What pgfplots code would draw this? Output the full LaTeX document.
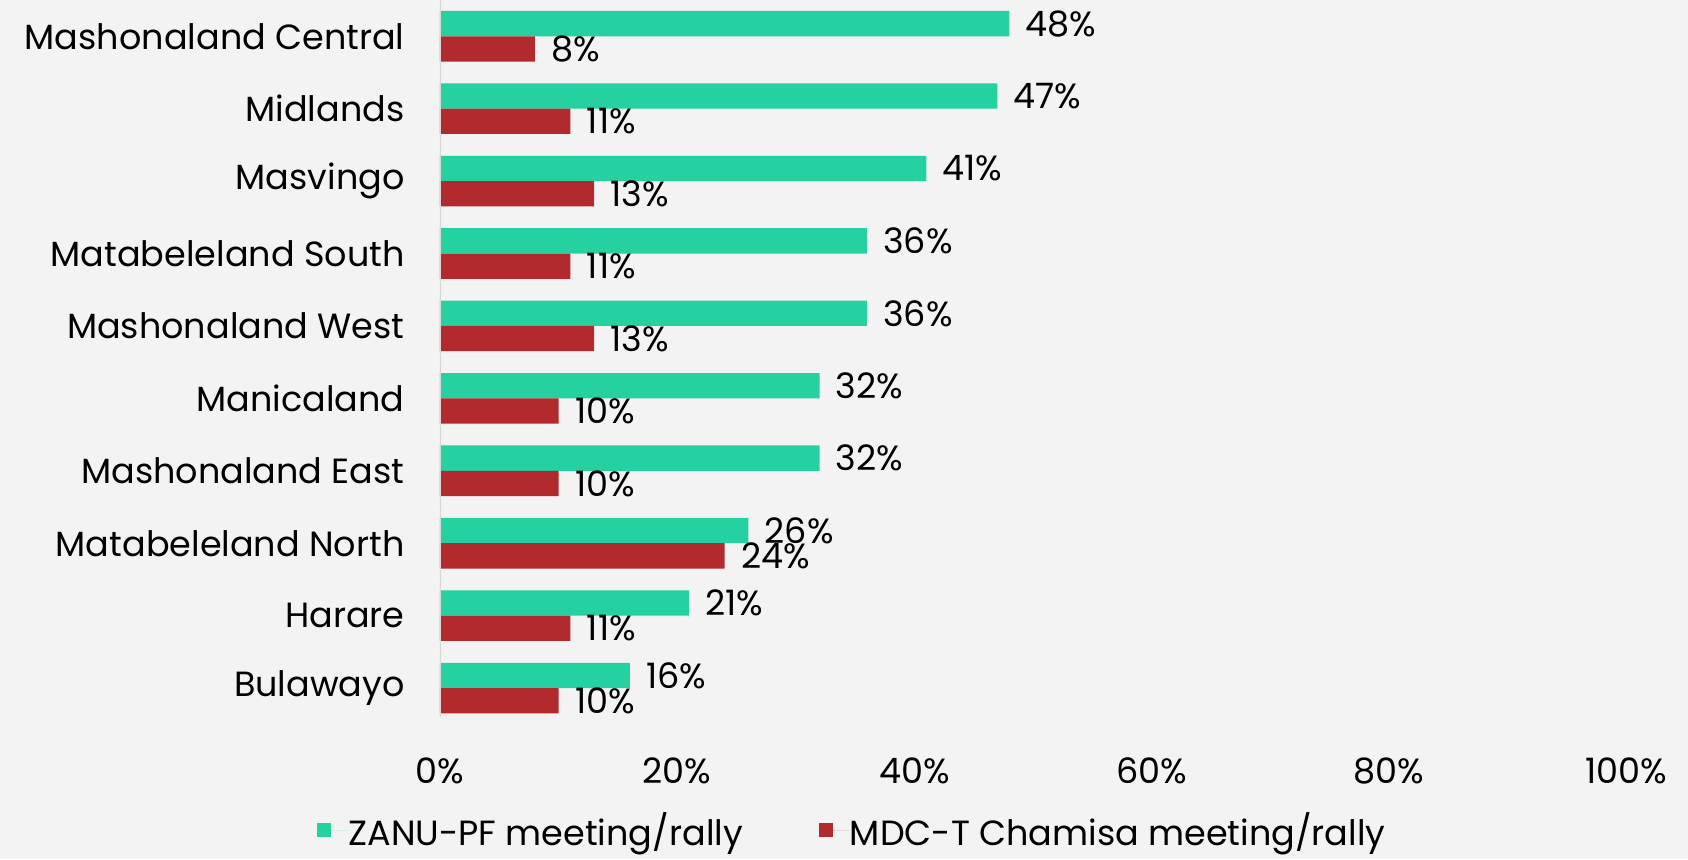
\documentclass[border=0pt]{standalone}
\usepackage{pgfplots}
\pgfplotsset{compat=1.18}
\usepackage{fontspec}
\setmainfont{Poppins}
\definecolor{zgreen}{RGB}{37,209,160}
\definecolor{mred}{RGB}{178,41,46}
\definecolor{bg}{RGB}{243,243,243}
\definecolor{axgray}{RGB}{215,215,215}
\begin{document}
\begin{tikzpicture}[font=\fontsize{17.5}{21}\selectfont]
\fill[bg] (0,0) rectangle (844pt,-429.5pt);
\path[use as bounding box] (0,0) rectangle (844pt,-429.5pt);
\begin{axis}[
  at={(220pt,-358.5pt)}, anchor=south west,
  scale only axis, width=593pt, height=358.5pt,
  xbar=0pt, bar width=12.65pt,
  y dir=reverse,
  xmin=0, xmax=100, ymin=-0.5, ymax=9.4,
  enlargelimits=false,
  axis line style={draw=none},
  major tick length=0pt,
  xtick={0,20,40,60,80,100},
  xticklabel={\pgfmathprintnumber{\tick}\%},
  xticklabel style={anchor=center, inner sep=0pt, yshift=-27pt},
  ytick={0,...,9},
  yticklabels={Mashonaland Central,Midlands,Masvingo,Matabeleland South,Mashonaland West,Manicaland,Mashonaland East,Matabeleland North,Harare,Bulawayo},
  yticklabel style={anchor=east, inner sep=0pt, xshift=-17.5pt},
  /pgf/number format/assume math mode=true,
  point meta=x,
  nodes near coords={\pgfmathprintnumber{\pgfplotspointmeta}\%},
  nodes near coords style={anchor=west, inner sep=0pt, xshift=8pt, text=black},
  legend columns=2,
  legend style={at={(0.347,-0.158)}, anchor=center, draw=none, fill=none,
    /tikz/every even column/.append style={column sep=38pt},
    nodes={inner sep=0pt}},
  legend image code/.code={\fill[#1] (0pt,-3.5pt) rectangle (7pt,3.5pt); \path (0pt,0pt) -- (15.5pt,0pt);},
]
\addplot[fill=zgreen, draw=none, bar shift=6.325pt] coordinates {(48,0) (47,1) (41,2) (36,3) (36,4) (32,5) (32,6) (26,7) (21,8) (16,9)};
\addplot[fill=mred, draw=none, bar shift=-6.325pt] coordinates {(8,0) (11,1) (13,2) (11,3) (13,4) (10,5) (10,6) (24,7) (11,8) (10,9)};
\legend{ZANU-PF meeting/rally, MDC-T Chamisa meeting/rally}
\draw[axgray, line width=0.8pt] (axis cs:0,-0.5) -- (axis cs:0,9.4);
\end{axis}
\end{tikzpicture}
\end{document}
